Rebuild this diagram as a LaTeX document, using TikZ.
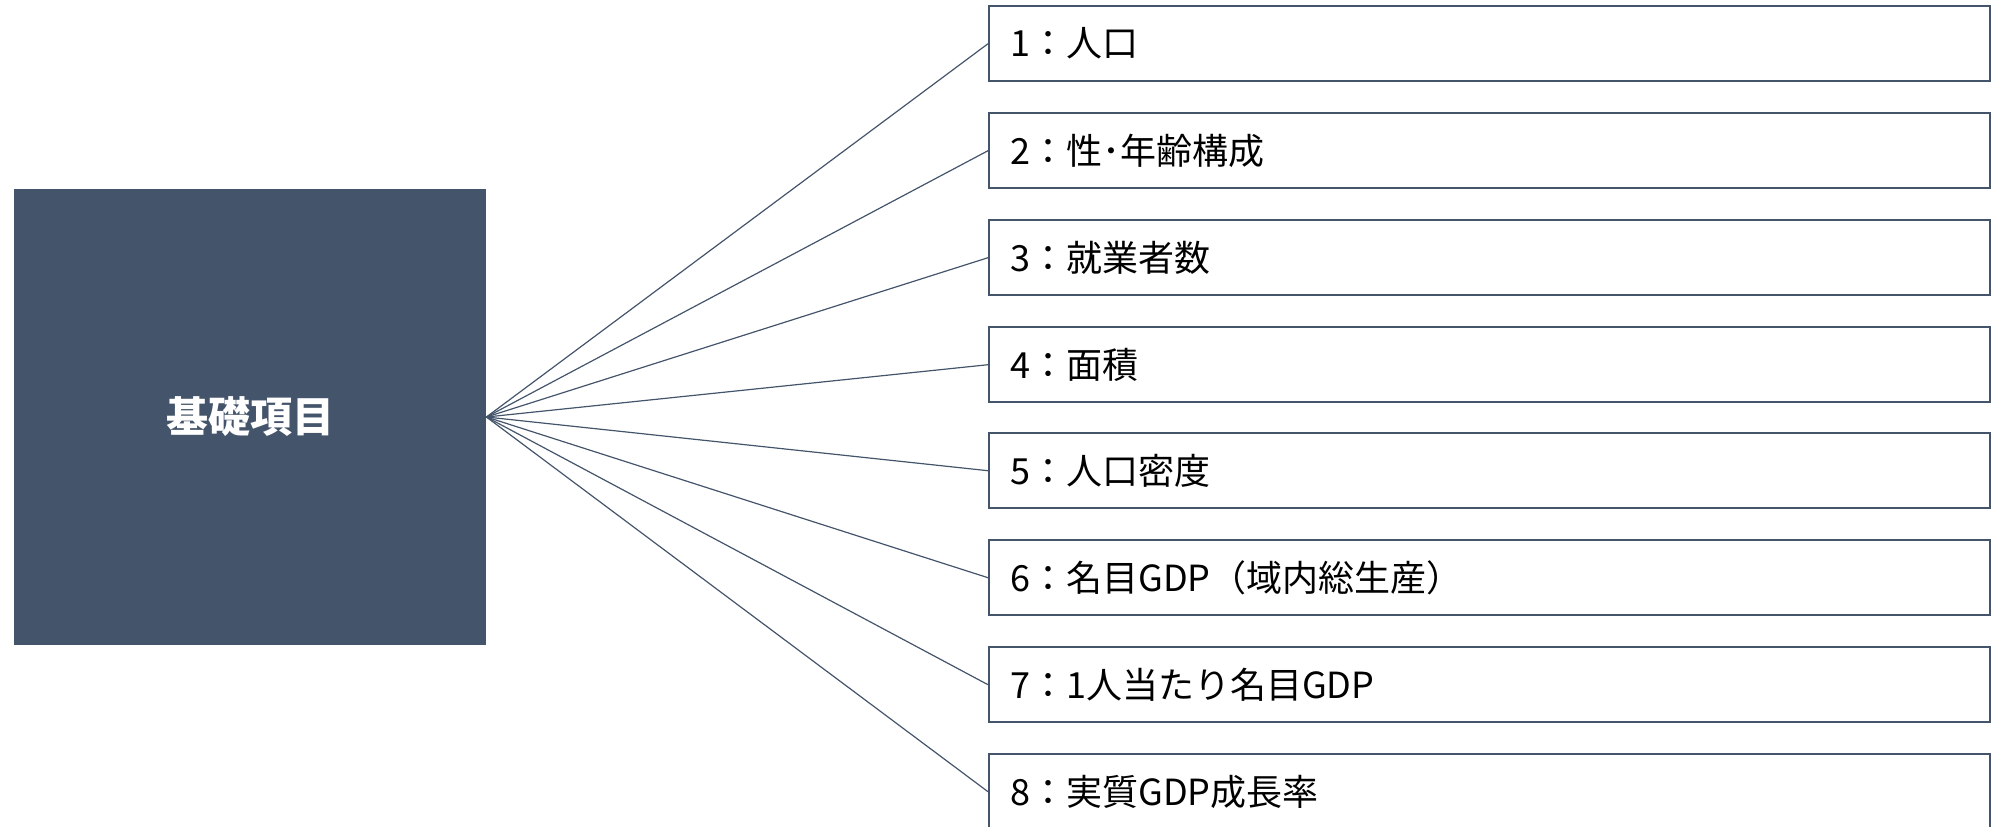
\documentclass[tikz,border=0pt]{standalone}
\usepackage{fontspec}
\setmainfont{Noto Sans CJK JP}
\definecolor{slate}{HTML}{44546A}
\begin{document}
\begin{tikzpicture}[x=0.5pt,y=-0.5pt,
  hubbox/.style={fill=slate,draw=none,minimum width=236pt,minimum height=228pt,inner sep=0pt,
    text=white,font=\fontsize{21}{25}\selectfont\bfseries},
  itembox/.style={draw=slate,line width=1.2pt,fill=white,anchor=north west,
    minimum height=37.5pt,text width=479.5pt,inner xsep=10.5pt,inner ysep=0pt,align=left,
    font=\fontsize{18}{22}\selectfont},
  link/.style={draw=slate,line width=0.6pt}]
\useasboundingbox (0,0) rectangle (2000,826);
\node[hubbox] (hub) at (250,417) {基礎項目};
\node[itembox] (b1) at (988,5) {1：人口};
\node[itembox] (b2) at (988,112) {2：性･年齢構成};
\node[itembox] (b3) at (988,219) {3：就業者数};
\node[itembox] (b4) at (988,326) {4：面積};
\node[itembox] (b5) at (988,432) {5：人口密度};
\node[itembox] (b6) at (988,539) {6：名目GDP（域内総生産）};
\node[itembox] (b7) at (988,646) {7：1人当たり名目GDP};
\node[itembox] (b8) at (988,753) {8：実質GDP成長率};
\foreach \i in {1,...,8}{\draw[link] (hub.east) -- (b\i.west);}
\end{tikzpicture}
\end{document}
